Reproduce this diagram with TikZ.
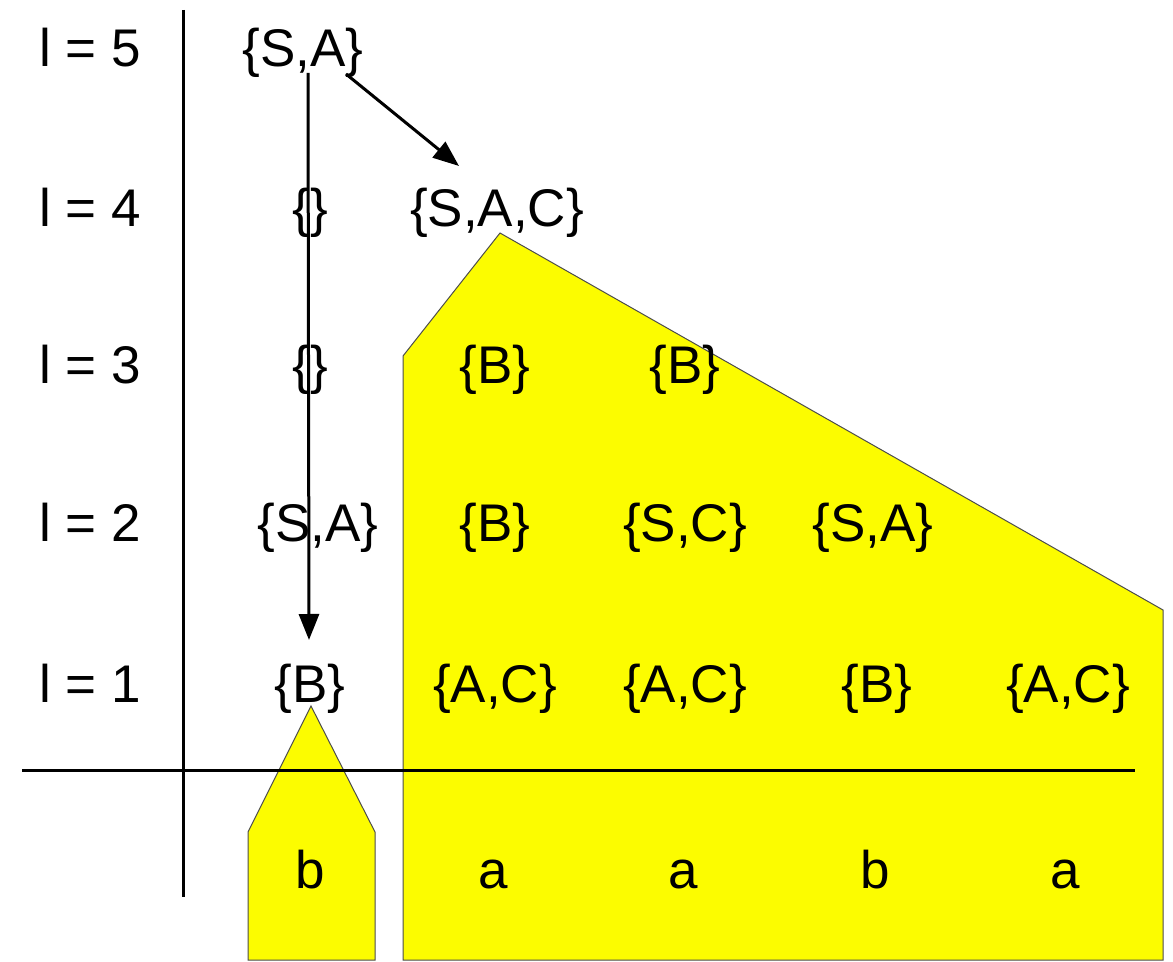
\documentclass[tikz,border=0pt]{standalone}
\usepackage{fontspec}
\setmainfont{Liberation Sans}
\usetikzlibrary{arrows.meta}
\definecolor{hl}{RGB}{252,252,0}
\begin{document}
\begin{tikzpicture}[x=0.5pt,y=-0.5pt,
  lbl/.style={anchor=base,inner sep=0pt,font=\fontsize{26.5}{30}\selectfont},
  region/.style={fill=hl,draw=black!70,line width=0.5pt},
  axis/.style={line width=1.5pt},
  arr/.style={line width=1.5pt,-{Triangle[length=13pt,width=10pt]}}]
\useasboundingbox (0,0) rectangle (1173,962);
% yellow regions
\path[region] (248,960) -- (248,832) -- (311,706) -- (375,832) -- (375,960) -- cycle;
\path[region] (403,960) -- (403,356) -- (500,233) -- (1163,610) -- (1163,960) -- cycle;
% axes
\draw[axis] (183,10) -- (183,897);
\draw[axis] (22,770) -- (1135,770);
% row labels
\node[lbl] (r5) at (90,67) {l = 5};
\node[lbl] (r4) at (90,227) {l = 4};
\node[lbl] (r3) at (90,384) {l = 3};
\node[lbl] (r2) at (90,542) {l = 2};
\node[lbl] (r1) at (90,702) {l = 1};
% table entries
\node[lbl] (c15) at (303,67) {\{S,A\}};
\node[lbl] (c14) at (310,227) {\{\}};
\node[lbl] (c24) at (497,227) {\{S,A,C\}};
\node[lbl] (c13) at (310,384) {\{\}};
\node[lbl] (c23) at (495,384) {\{B\}};
\node[lbl] (c33) at (685,384) {\{B\}};
\node[lbl] (c12) at (318,542) {\{S,A\}};
\node[lbl] (c22) at (495,542) {\{B\}};
\node[lbl] (c32) at (685,542) {\{S,C\}};
\node[lbl] (c42) at (873,542) {\{S,A\}};
\node[lbl] (c11) at (310,702) {\{B\}};
\node[lbl] (c21) at (495,702) {\{A,C\}};
\node[lbl] (c31) at (685,702) {\{A,C\}};
\node[lbl] (c41) at (877,702) {\{B\}};
\node[lbl] (c51) at (1068,702) {\{A,C\}};
% input letters
\node[lbl] (w1) at (310,888) {b};
\node[lbl] (w2) at (493,888) {a};
\node[lbl] (w3) at (683,888) {a};
\node[lbl] (w4) at (875,888) {b};
\node[lbl] (w5) at (1065,888) {a};
% connectors
\coordinate (vs) at (308,73);
\coordinate (ve) at (309,640);
\coordinate (ds) at (346,74);
\coordinate (de) at (459,166);
\draw[arr] (vs) -- (ve);
\draw[arr] (ds) -- (de);
\end{tikzpicture}
\end{document}
